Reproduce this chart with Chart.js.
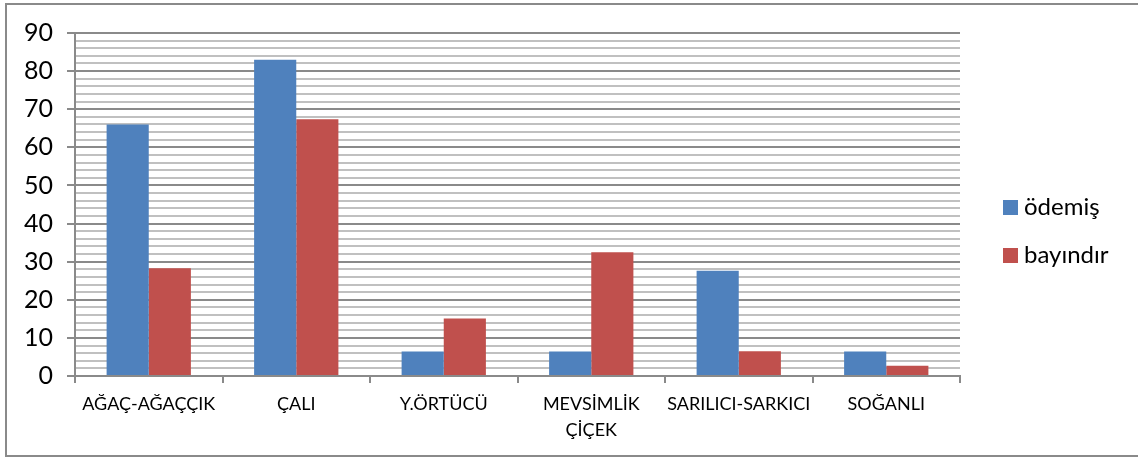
<!DOCTYPE html>
<html>
<head>
<meta charset="utf-8">
<script src="https://cdn.jsdelivr.net/npm/chart.js@4/dist/chart.umd.min.js"></script>
<style>
  html, body { margin: 0; padding: 0; background: #fff; }
  #wrap { position: relative; width: 1138px; height: 461px; overflow: hidden; }
  #frame { position: absolute; left: 5px; top: 3px; width: 1140px; height: 454px; border: 2px solid #8a8a8a; box-sizing: border-box; }
  canvas { position: absolute; left: 0; top: 0; }
</style>
</head>
<body>
<div id="wrap">
  <div id="frame"></div>
  <canvas id="chart" width="1138" height="461"></canvas>
</div>
<script>
const categories = ['AĞAÇ-AĞAÇÇIK', 'ÇALI', 'Y.ÖRTÜCÜ', ['MEVSİMLİK', 'ÇİÇEK'], 'SARILICI-SARKICI', 'SOĞANLI'];
const odemis = [66, 83, 6.4, 6.4, 27.6, 6.4];
const bayindir = [28.3, 67.4, 15.1, 32.5, 6.5, 2.7];
const yTicks = [0, 10, 20, 30, 40, 50, 60, 70, 80, 90];

const FONT = 'Lato, "Open Sans", sans-serif';

// legend drawn at the right, like the Excel original
const sideLegend = {
    id: 'sideLegend',
    afterDraw(chart) {
        const ctx = chart.ctx;
        ctx.save();
        ctx.font = '24px ' + FONT;
        ctx.textBaseline = 'middle';
        chart.data.datasets.forEach((ds, i) => {
            const cy = 207 + i * 48;
            ctx.fillStyle = ds.backgroundColor;
            ctx.fillRect(1003, cy - 7, 15, 15);
            ctx.fillStyle = '#000';
            ctx.fillText(ds.label, 1024, cy);
        });
        ctx.restore();
    }
};

new Chart(document.getElementById('chart'), {
    type: 'bar',
    data: {
        labels: categories,
        datasets: [
            { label: 'ödemiş', data: odemis, backgroundColor: '#4F81BD' },
            { label: 'bayındır', data: bayindir, backgroundColor: '#C0504D' }
        ]
    },
    options: {
        responsive: false,
        animation: false,
        layout: { padding: { left: 0, top: 33, right: 178, bottom: 0 } },
        plugins: { legend: { display: false }, tooltip: { enabled: false } },
        datasets: { bar: { categoryPercentage: 2 / 3.5, barPercentage: 1 } },
        scales: {
            x: {
                offset: true,
                grid: { offset: true, drawOnChartArea: false, tickLength: 7, color: '#8a8a8a', lineWidth: 2 },
                border: { color: '#8a8a8a', width: 2 },
                ticks: { color: '#000', font: { family: FONT, size: 18, lineHeight: 1.45 }, padding: 8, maxRotation: 0, autoSkip: false },
                afterFit(s) { s.height = 85; }
            },
            y: {
                min: 0,
                max: 90,
                grid: {
                    tickLength: 8,
                    color: c => (c.tick && c.tick.value % 10 === 0) ? '#8a8a8a' : '#c0c0c0',
                    lineWidth: 2,
                    tickColor: c => (c.tick && c.tick.value % 10 === 0) ? '#8a8a8a' : 'rgba(0,0,0,0)'
                },
                border: { color: '#8a8a8a', width: 2 },
                ticks: {
                    stepSize: 2,
                    autoSkip: false,
                    color: '#000',
                    font: { family: FONT, size: 25 },
                    padding: 14,
                    callback: v => yTicks.includes(v) ? String(v) : ''
                },
                afterFit(s) { s.width = 75; }
            }
        }
    },
    plugins: [sideLegend]
});
</script>
</body>
</html>
